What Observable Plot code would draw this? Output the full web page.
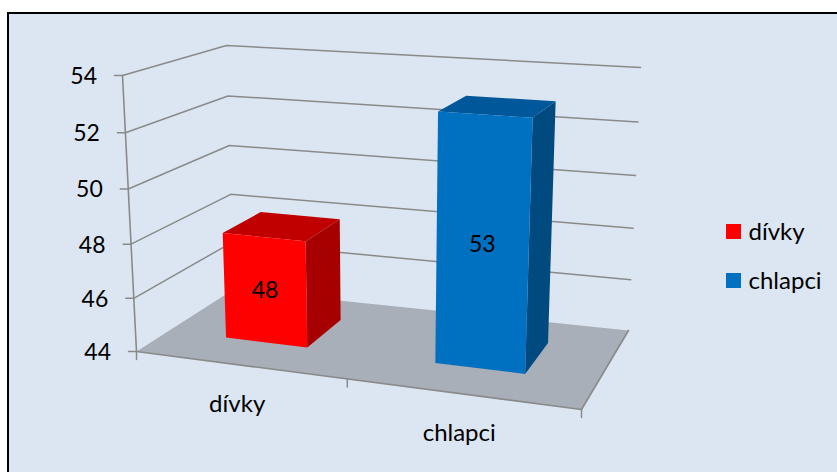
<!DOCTYPE html>
<html><head><meta charset="utf-8">
<script src="https://cdn.jsdelivr.net/npm/d3@7"></script>
<script src="https://cdn.jsdelivr.net/npm/@observablehq/plot@0.6"></script>
<style>html,body{margin:0;padding:0;background:#fff}svg{display:block}</style>
</head><body><div id="c"></div><script>
const categories = ["dívky", "chlapci"];
const values = [48, 53];
const valueTicks = [44, 46, 48, 50, 52, 54];
const frontColors = ["#FF0000", "#0070C0"];
const topColors = ["#C00000", "#00589A"];
const sideColors = ["#A60000", "#004A80"];
const gridColor = "#8A8A8A", floorColor = "#A9AFB9", panelColor = "#DCE6F2";

// Camera calibration: image of the 3D box corners (u across, d deep, t up)
const corners = {
  "000": [136, 351], "100": [581, 409], "010": [233, 289], "110": [628, 330],
  "001": [122, 75], "101": [594, 105], "011": [226, 45], "111": [640, 67]
};
const persp = {u: -0.1, d: 0.127, t: -0.046};
const vMin = 44, vMax = 54;
function project(u, d, v) {
  const t = (v - vMin) / (vMax - vMin);
  let X = 0, Y = 0, W = 0;
  for (const iu of [0, 1]) for (const id of [0, 1]) for (const it of [0, 1]) {
    const b = (iu ? u : 1 - u) * (id ? d : 1 - d) * (it ? t : 1 - t);
    const w = b * (1 + persp.u * iu + persp.d * id + persp.t * it);
    const p = corners[`${iu}${id}${it}`];
    X += w * p[0]; Y += w * p[1]; W += w;
  }
  return {x: X / W, y: Y / W};
}
const barHalf = 0.1, barShift = -0.005, depthA = 0.31, depthB = 0.72;
const center = i => (i + 0.5) / categories.length;
const poly = (pts, o) => Plot.line([...pts, pts[0]].map(p => project(...p)), {x: "x", y: "y", curve: "linear-closed", stroke: "none", ...o});
const seg = (pts, o = {}) => Plot.line(pts.map(p => project(...p)), {x: "x", y: "y", stroke: gridColor, strokeWidth: 1.6, ...o});
const tickSeg = (p, dx, dy) => {
  const a = project(...p);
  return Plot.line([a, {x: a.x + dx, y: a.y + dy}], {x: "x", y: "y", stroke: gridColor, strokeWidth: 1.5});
};

const font = "Lato";
const marks = [
  Plot.frame({fill: panelColor, stroke: "#000", strokeWidth: 2, insetLeft: 7.5, insetTop: 12.5, insetRight: -4, insetBottom: -4}),
  // floor
  poly([[0, 0, vMin], [1, 0, vMin], [1, 1, vMin], [0, 1, vMin]], {fill: floorColor}),
  seg([[0, 0, vMin], [1, 0, vMin], [1, 1, vMin]]),
  // gridlines on the side and back walls
  ...valueTicks.filter(v => v > vMin).map(v => seg([[0, 0, v], [0, 1, v], [1, 1, v]], {strokeWidth: 1.5})),
  // value axis
  seg([[0, 0, vMin], [0, 0, vMax]]),
  ...valueTicks.map(v => tickSeg([0, 0, v], -8, 0)),
  tickSeg([0, 0, vMin], 0, 8), tickSeg([0.5, 0, vMin], 0, 8), tickSeg([1, 0, vMin], 0, 8),
  Plot.text(valueTicks, {
    x: v => project(0, 0, v).x, y: v => project(0, 0, v).y, text: d => String(d),
    dx: -25.5, dy: 1, textAnchor: "end", fontSize: 23, fontFamily: font, fill: "#000"
  }),
  // bars
  ...categories.flatMap((c, i) => {
    const u0 = center(i) + barShift - barHalf, u1 = u0 + 2 * barHalf, v = values[i];
    return [
      poly([[u1, depthA, vMin], [u1, depthB, vMin], [u1, depthB, v], [u1, depthA, v]], {fill: sideColors[i]}),
      poly([[u0, depthA, v], [u1, depthA, v], [u1, depthB, v], [u0, depthB, v]], {fill: topColors[i]}),
      poly([[u0, depthA, vMin], [u1, depthA, vMin], [u1, depthA, v], [u0, depthA, v]], {fill: frontColors[i]})
    ];
  }),
  Plot.text(values, {
    x: (v, i) => project(center(i) + barShift, depthA, (v + vMin) / 2).x,
    y: (v, i) => project(center(i) + barShift, depthA, (v + vMin) / 2).y,
    text: d => String(d), fontSize: 23, fontFamily: font, fill: "#000"
  }),
  // category labels
  Plot.text(categories, {
    x: (c, i) => project(center(i), 0, vMin).x,
    y: (c, i) => project(center(i), 0, vMin).y,
    text: d => d, dx: -2, dy: 39, fontSize: 24, fontFamily: font, fill: "#000"
  }),
  // legend
  Plot.rect(categories, {
    x1: 726, x2: 741,
    y1: (c, i) => 224 + 49 * i, y2: (c, i) => 239 + 49 * i,
    fill: (c, i) => frontColors[i]
  }),
  Plot.text(categories, {
    x: 748, y: (c, i) => 231.5 + 49 * i, text: d => d,
    textAnchor: "start", fontSize: 24, fontFamily: font, fill: "#000"
  })
];

const chart = Plot.plot({
  width: 837, height: 472, margin: 0,
  x: {domain: [0, 837], range: [0, 837], axis: null},
  y: {domain: [0, 472], range: [0, 472], axis: null},
  style: {background: "#fff"},
  marks
});
document.getElementById("c").append(chart);
</script></body></html>
